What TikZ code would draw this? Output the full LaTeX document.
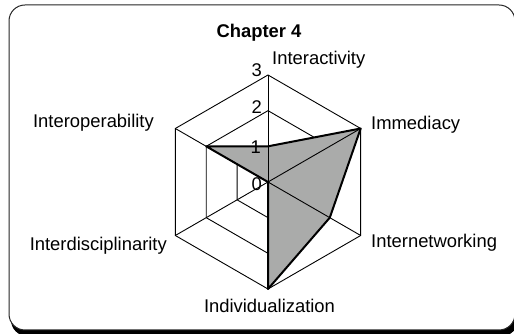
\documentclass[tikz,border=0pt]{standalone}
\usepackage{fontspec}
\setmainfont{Liberation Sans}
\usetikzlibrary{calc}

\definecolor{areagray}{RGB}{170,171,170}
\def\unitr{35.67}
\tikzset{
  axislabel/.style={font=\fontsize{18.4}{21}\selectfont,inner sep=0pt},
  gridline/.style={line width=0.9pt},
}

\begin{document}
\begin{tikzpicture}[x=1pt,y=1pt]
  \useasboundingbox (0,0) rectangle (514,334);
  \clip (0,0) rectangle (514,334);
  % frame and its shadow
  \fill[black,rounded corners=16pt] (11,325) rectangle (518,-2);
  \draw[black!85,fill=white,line width=1pt,rounded corners=16pt] (9,329) rectangle (515,4);
  \begin{scope}[shift={(268,152)}]
    \foreach \r in {1,2,3}
      \draw[gridline] (90:\r*\unitr) -- (30:\r*\unitr) -- (-30:\r*\unitr) -- (-90:\r*\unitr) -- (-150:\r*\unitr) -- (150:\r*\unitr) -- cycle;
    \fill[areagray] (90:1*\unitr) -- (30:3*\unitr) -- (-30:2*\unitr) -- (-90:3*\unitr) -- (0,0) -- (150:2*\unitr) -- cycle;
    \foreach \a in {90,30,-30,-90,-150,150}
      \draw[gridline] (0,0) -- (\a:3*\unitr);
    \draw[line width=2pt,line join=round] (90:1*\unitr) -- (30:3*\unitr) -- (-30:2*\unitr) -- (-90:3*\unitr) -- (0,0) -- (150:2*\unitr) -- cycle;
  \end{scope}
  % scale
  \node[axislabel,anchor=east] (tick3) at (262,263.5) {3};
  \node[axislabel,anchor=east] (tick2) at (262,227) {2};
  \node[axislabel,anchor=east] (tick1) at (261,186.5) {1};
  \node[axislabel,anchor=east] (tick0) at (262,150) {0};
  % titles
  \node[axislabel,font=\fontsize{18.4}{21}\selectfont\bfseries,anchor=base] (title) at (259,296) {Chapter 4};
  \node[axislabel,anchor=base west] (interactivity) at (272,269) {Interactivity};
  \node[axislabel,anchor=base west] (immediacy) at (371,204) {Immediacy};
  \node[axislabel,anchor=base west] (internetworking) at (371,86) {Internetworking};
  \node[axislabel,anchor=base] (individualization) at (269.5,21) {Individualization};
  \node[axislabel,anchor=base east] (interdisciplinarity) at (167,83) {Interdisciplinarity};
  \node[axislabel,anchor=base east] (interoperability) at (154,206) {Interoperability};
\end{tikzpicture}
\end{document}
